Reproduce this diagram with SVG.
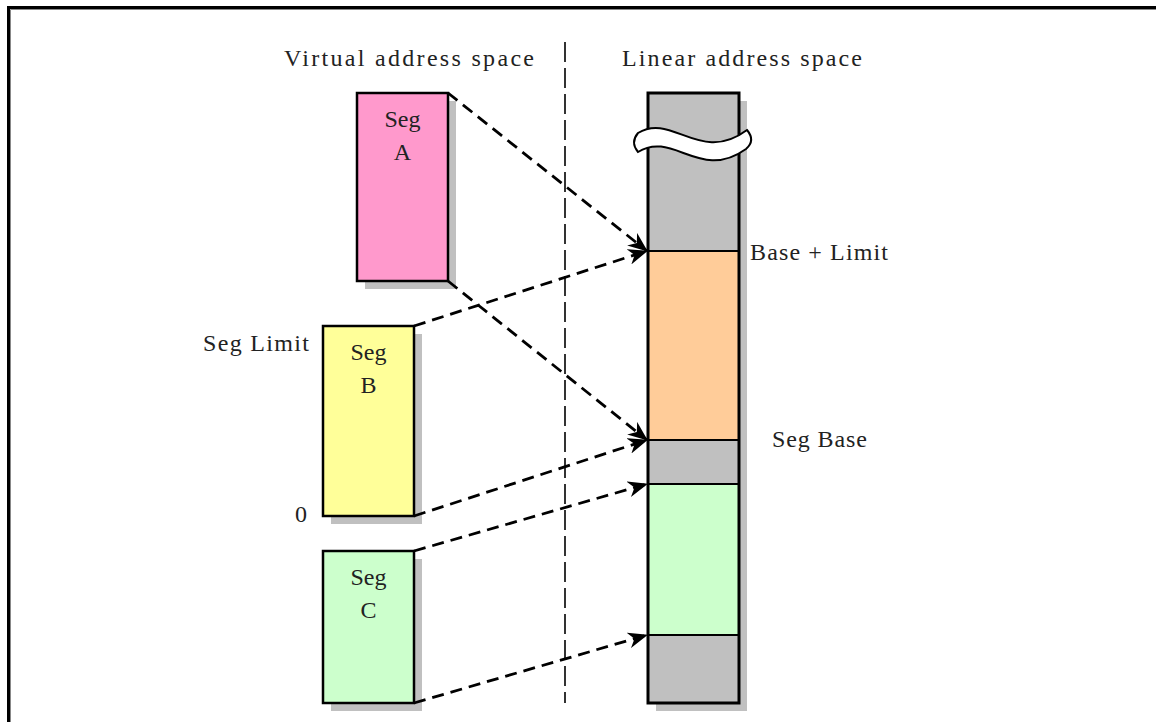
<svg xmlns="http://www.w3.org/2000/svg" width="1156" height="722" viewBox="0 0 1156 722">
<defs>
<style>
.t{font-family:"Liberation Serif","Times New Roman",serif;font-size:24px;fill:#222}
.box{stroke:#000;stroke-width:2.5}
.sh{fill:#c0c0c0}
.div{stroke:#000;stroke-width:2}
.conn{fill:none;stroke:#000;stroke-width:2.8;stroke-dasharray:12 7}
</style>
<marker id="ah" viewBox="0 0 20 16" refX="19" refY="8" markerWidth="20" markerHeight="16" markerUnits="userSpaceOnUse" orient="auto">
<path d="M0,0 L20,8 L0,16 L6,8 Z" fill="#000"/>
</marker>
</defs>
<rect width="1156" height="722" fill="#fff"/>
<path d="M8.5,722 L8.5,7.5 L1156,7.5" fill="none" stroke="#000" stroke-width="3"/>
<path d="M10.5,722 L10.5,9.5 L1156,9.5" fill="none" stroke="#888" stroke-width="1"/>

<g id="titles">
<text class="t" x="284" y="66" textLength="250">Virtual address space</text>
<text class="t" x="622" y="66" textLength="240">Linear address space</text>
</g>
<line id="divider" x1="565" y1="42" x2="565" y2="703" stroke="#000" stroke-width="1.6" stroke-dasharray="20 6"/>

<g id="segA">
<rect class="sh" x="365" y="101" width="91" height="188"/>
<rect class="box" x="357" y="93" width="91" height="188" fill="#ff99cc"/>
<text class="t" x="402.5" y="127" text-anchor="middle">Seg</text>
<text class="t" x="402.5" y="160" text-anchor="middle">A</text>
</g>

<g id="segB">
<rect class="sh" x="331" y="334" width="91" height="190"/>
<rect class="box" x="323" y="326" width="91" height="190" fill="#ffff99"/>
<text class="t" x="368.5" y="360" text-anchor="middle">Seg</text>
<text class="t" x="368.5" y="393" text-anchor="middle">B</text>
<text class="t" x="309" y="351" text-anchor="end" textLength="106">Seg Limit</text>
<text class="t" x="307" y="522" text-anchor="end">0</text>
</g>

<g id="segC">
<rect class="sh" x="331" y="559" width="91" height="152"/>
<rect class="box" x="323" y="551" width="91" height="152" fill="#ccffcc"/>
<text class="t" x="368.5" y="585" text-anchor="middle">Seg</text>
<text class="t" x="368.5" y="618" text-anchor="middle">C</text>
</g>

<g id="linear">
<rect class="sh" x="656" y="101" width="91" height="610"/>
<rect x="648" y="93" width="91" height="158" fill="#c0c0c0"/>
<rect x="648" y="251" width="91" height="189" fill="#ffcc99"/>
<rect x="648" y="440" width="91" height="44" fill="#c0c0c0"/>
<rect x="648" y="484" width="91" height="151" fill="#ccffcc"/>
<rect x="648" y="635" width="91" height="68" fill="#c0c0c0"/>
<line class="div" x1="648" y1="251" x2="739" y2="251"/>
<line class="div" x1="648" y1="440" x2="739" y2="440"/>
<line class="div" x1="648" y1="484" x2="739" y2="484"/>
<line class="div" x1="648" y1="635" x2="739" y2="635"/>
<rect x="648" y="93" width="91" height="610" fill="none" stroke="#000" stroke-width="3"/>
<path d="M638,133 C672,112 700,165 747,130 C752,136 753,143 746,149 C700,182 673,130 638,152 C633,146 633,139 638,133 Z" fill="#fff" stroke="#000" stroke-width="2"/>
<text class="t" x="750" y="260" textLength="138">Base + Limit</text>
<text class="t" x="772" y="447" textLength="95">Seg Base</text>
</g>

<g id="connectors">
<line class="conn" x1="448" y1="93" x2="647" y2="251" marker-end="url(#ah)"/>
<line class="conn" x1="448" y1="281" x2="647" y2="440" marker-end="url(#ah)"/>
<line class="conn" x1="414" y1="326" x2="647" y2="251" marker-end="url(#ah)"/>
<line class="conn" x1="414" y1="516" x2="647" y2="440" marker-end="url(#ah)"/>
<line class="conn" x1="414" y1="551" x2="647" y2="484" marker-end="url(#ah)"/>
<line class="conn" x1="414" y1="703" x2="647" y2="635" marker-end="url(#ah)"/>
</g>
</svg>
